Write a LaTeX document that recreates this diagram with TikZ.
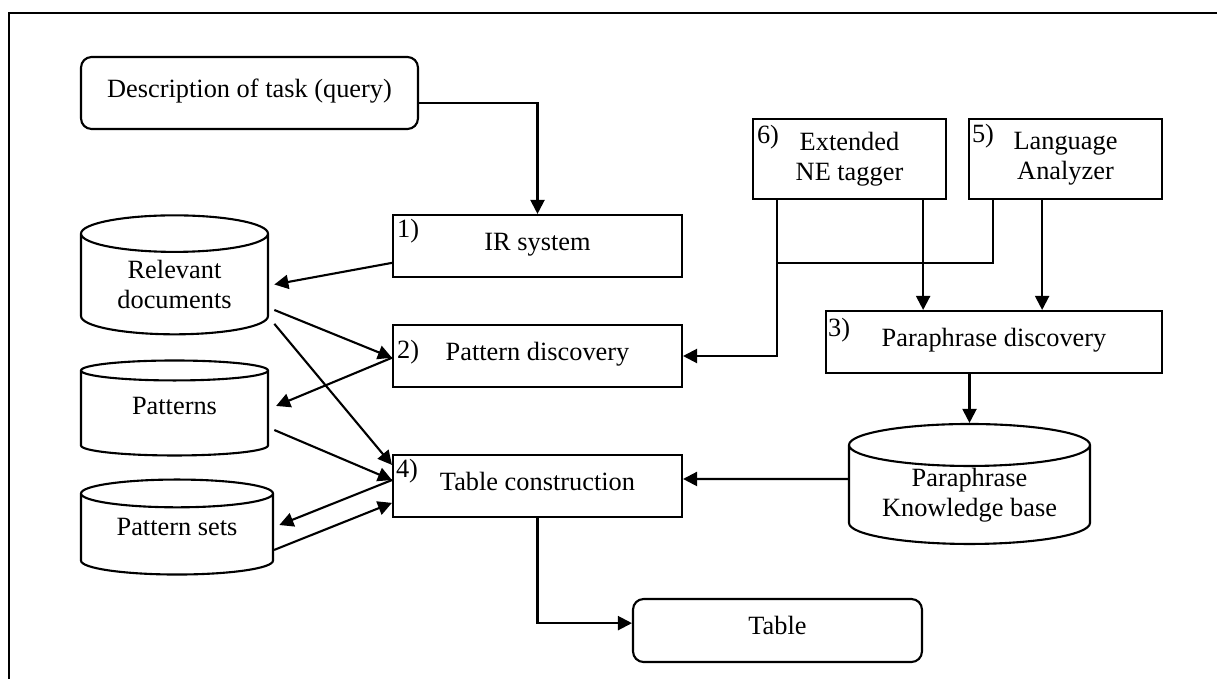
\documentclass[tikz,border=0pt]{standalone}
\usepackage{fontspec}
\setmainfont{Liberation Serif}
\usetikzlibrary{shapes.geometric,arrows.meta}

\begin{document}
\begin{tikzpicture}[x=0.02cm,y=-0.02cm,line width=1.2pt,
      font=\fontsize{15}{17}\selectfont,
      box/.style={draw,rectangle,inner sep=0pt,text height=0.68em,text depth=0.22em},
      rbox/.style={box,rounded corners=6pt},
      twobox/.style={draw,rectangle,align=center,inner sep=0pt,minimum width=3.86cm,minimum height=1.6cm},
      db/.style={draw,cylinder,shape border rotate=90,align=center,inner sep=0pt},
      dbone/.style={db,text height=0.68em,text depth=0.55em},
      num/.style={anchor=base west,inner sep=0pt},
      >={Triangle[length=8pt,width=8pt]}]
      \useasboundingbox (0,0) rectangle (1217,679);
      \draw (1217,13) -- (9,13) -- (9,679);
      \node[rbox,minimum width=6.74cm,minimum height=1.44cm] (Q) at (249.5,93) {Description of task (query)};
      \node[box,minimum width=5.78cm,minimum height=1.24cm] (IR) at (537.5,246) {IR system};
      \node[box,minimum width=5.78cm,minimum height=1.24cm] (PD) at (537.5,356) {Pattern discovery};
      \node[box,minimum width=5.78cm,minimum height=1.24cm] (TC) at (537.5,486) {Table construction};
      \node[twobox] (NE) at (849.5,159) {Extended\\NE tagger};
      \node[twobox] (LA) at (1065.5,159) {Language\\Analyzer};
      \node[box,minimum width=6.72cm,minimum height=1.24cm] (PR) at (994,342) {Paraphrase discovery};
      \node[rbox,minimum width=5.78cm,minimum height=1.26cm] (T) at (777.5,630.5) {Table};
      \node[db,minimum width=3.74cm,minimum height=2.38cm,aspect=0.32] (RD) at (174.5,284.5) {Relevant\\documents};
      \node[dbone,minimum width=3.74cm,minimum height=1.9cm,aspect=0.235] (P) at (174.5,413.5) {Patterns};
      \node[dbone,minimum width=3.84cm,minimum height=1.9cm,aspect=0.23] (PS) at (177,534.5) {Pattern sets};
      \node[db,minimum width=4.82cm,minimum height=2.4cm,aspect=0.24] (KB) at (969.5,495) {Paraphrase\\Knowledge base};
      \node[num] (N1) at ([xshift=2.3pt,yshift=-13.6pt]IR.north west) {1)};
      \node[num] (N2) at ([xshift=2.3pt,yshift=-19.8pt]PD.north west) {2)};
      \node[num] (N3) at ([xshift=1.2pt,yshift=-15.3pt]PR.north west) {3)};
      \node[num] (N4) at ([xshift=1.7pt,yshift=-13.6pt]TC.north west) {4)};
      \node[num] (N5) at ([xshift=1.7pt,yshift=-14.2pt]LA.north west) {5)};
      \node[num] (N6) at ([xshift=2.3pt,yshift=-14.7pt]NE.north west) {6)};
      \coordinate (J) at (778,263);
      \draw[->] ([yshift=-5.7pt]Q.east) -| (IR.north);
      \draw[->] ([yshift=-9.6pt]IR.west) -- ([xshift=3pt]RD.east);
      \draw[->] ([xshift=3pt,yshift=-14.5pt]RD.east) -- ([yshift=-1pt]PD.west);
      \draw[->] ([yshift=-1pt]PD.west) -- ([xshift=4pt,yshift=4.3pt]P.east);
      \draw[->] ([xshift=3pt,yshift=-22.4pt]RD.east) -- ([yshift=12pt]TC.west);
      \draw[->] ([xshift=3pt,yshift=-9.4pt]P.east) -- ([yshift=3.4pt]TC.west);
      \draw[->] ([yshift=3.4pt]TC.west) -- ([xshift=3pt,yshift=5.4pt]PS.east);
      \draw[->] ([yshift=-8.8pt]PS.east) -- ([yshift=-9.6pt]TC.west);
      \draw[->] ([yshift=9.1pt]KB.west) -- ([yshift=4pt]TC.east);
      \draw[->] (TC.south) |- ([yshift=4.2pt]T.west);
      \draw[->] (KB.north |- PR.south) -- (KB.north);
      \draw[->] ([xshift=14.2pt]NE.south west) |- (PD.east);
      \draw ([xshift=14.2pt]LA.south west) |- (J);
      \draw[->] ([xshift=-13.6pt]NE.south east) coordinate (n1) -- (n1 |- PR.north);
      \draw[->] ([xshift=-13.3pt]LA.south) coordinate (l1) -- (l1 |- PR.north);
    \end{tikzpicture}
\end{document}
